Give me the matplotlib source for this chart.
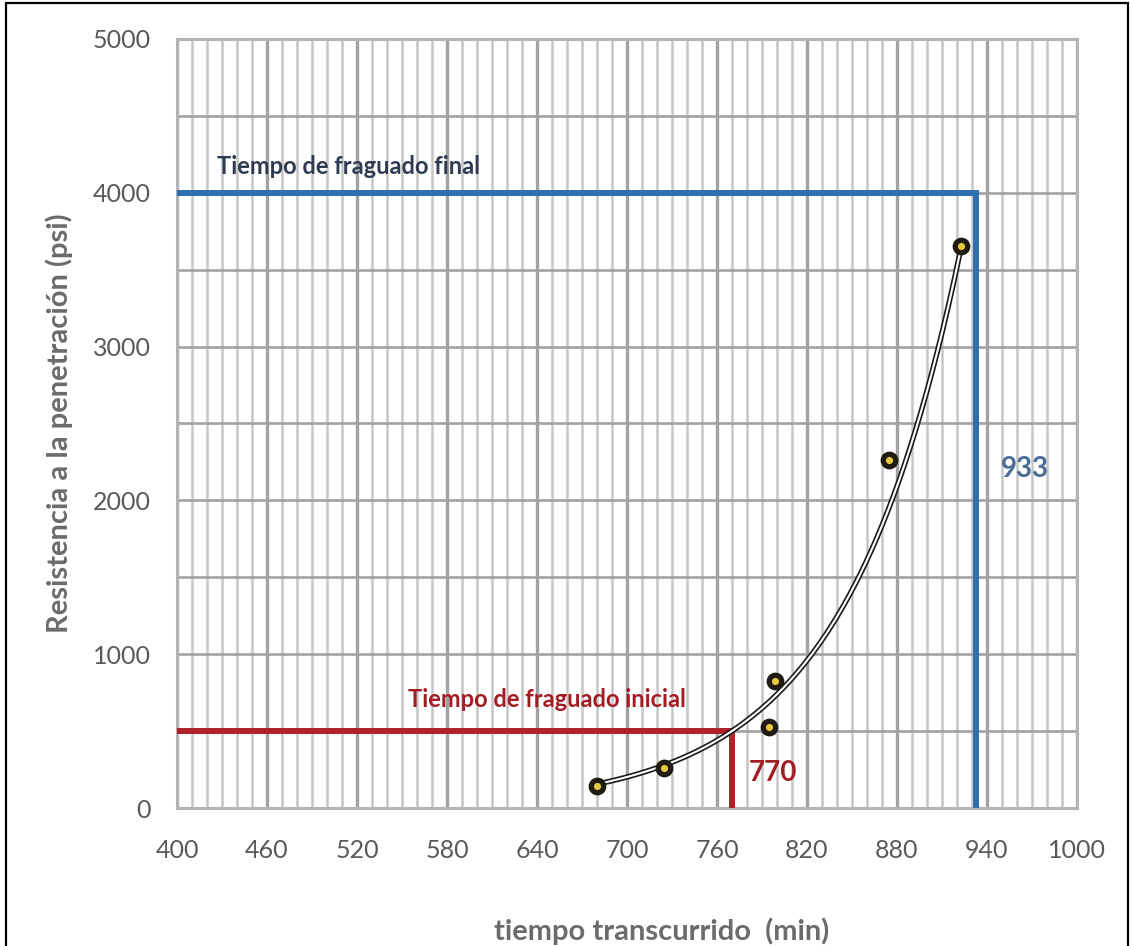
import numpy as np
import matplotlib
matplotlib.use("Agg")
from matplotlib import pyplot as plt
from matplotlib.patches import Rectangle
from matplotlib.ticker import MultipleLocator

plt.rcParams["font.family"] = ["Lato", "DejaVu Sans"]

# measured points
tiempo = [680, 725, 795, 799, 875, 923]
resistencia = [140, 262, 525, 825, 2265, 3655]

# exponential trend y = a*exp(b*x), coefficients
trend_a = 0.0225
trend_b = 0.0130

# setting times
t_inicial, r_inicial = 770, 500
t_final, r_final = 933, 4000

x_ticks = [400, 460, 520, 580, 640, 700, 760, 820, 880, 940, 1000]
y_ticks = [0, 1000, 2000, 3000, 4000, 5000]

fig = plt.figure(figsize=(11.3, 9.46), dpi=100)
ax = fig.add_axes([177 / 1130, 1 - 808 / 946, 900 / 1130, 769 / 946])

ax.set_xlim(400, 1000)
ax.set_ylim(0, 5000)
ax.set_xticks(x_ticks)
ax.set_yticks(y_ticks)
ax.xaxis.set_minor_locator(MultipleLocator(10))
ax.yaxis.set_minor_locator(MultipleLocator(500))

ax.grid(True, which="major", axis="x", color="#a2a2a2", lw=2.4)
ax.grid(True, which="minor", axis="x", color="#c6c6c6", lw=1.8)
ax.grid(True, which="both", axis="y", color="#a2a2a2", lw=1.9)
ax.set_axisbelow(True)

for sp in ax.spines.values():
    sp.set_color("#b4b4b4")
    sp.set_linewidth(2.2)

ax.tick_params(which="both", length=0)
ax.tick_params(axis="x", pad=22, labelsize=18, labelcolor="#595959")
ax.tick_params(axis="y", pad=19, labelsize=18, labelcolor="#595959")

ax.set_xlabel("tiempo transcurrido  (min)", fontsize=21, fontweight="bold",
              color="#6b6b6b", labelpad=40)
ax.xaxis.label.set_x(0.538)
ax.set_ylabel("Resistencia a la penetración (psi)", fontsize=21, fontweight="bold",
              color="#6b6b6b", labelpad=14)

# reference lines
ax.plot([400, t_final, t_final], [r_final, r_final, 0], color="#2f6fae",
        lw=4.3, solid_joinstyle="miter", zorder=3)
ax.plot([400, t_inicial, t_inicial], [r_inicial, r_inicial, 0], color="#b0212a",
        lw=4.3, solid_joinstyle="miter", zorder=3)

# trend line (double stroke)
xt = np.linspace(min(tiempo), max(tiempo), 200)
yt = trend_a * np.exp(trend_b * xt)
ax.plot(xt, yt, color="#1a1a1a", lw=3.9, zorder=4, solid_capstyle="butt")
ax.plot(xt, yt, color="white", lw=1.5, zorder=5, solid_capstyle="butt")

ax.plot(tiempo, resistencia, "o", ms=9, mfc="#e6c83e", mec="#201c12", mew=3.8,
        zorder=6, linestyle="none")

ax.text(427, 4125, "Tiempo de fraguado final", fontsize=17, fontweight="bold",
        color="#2e3b52", zorder=7)
ax.text(554, 655, "Tiempo de fraguado inicial", fontsize=17, fontweight="bold",
        color="#a31c24", zorder=7)
ax.text(781, 228, "770", fontsize=20, fontweight="bold", color="#a31c24",
        va="center", zorder=7)
ax.text(949, 2205, "933", fontsize=20, fontweight="bold", color="#4a6c98",
        va="center", zorder=7)

# outer frame of the figure
fig.patches.append(Rectangle((6 / 1130, -0.02), 1122 / 1130, 1 - 3 / 946 + 0.02,
                             transform=fig.transFigure, fill=False,
                             edgecolor="black", lw=1.6))

fig.savefig("out.png", dpi=100)
